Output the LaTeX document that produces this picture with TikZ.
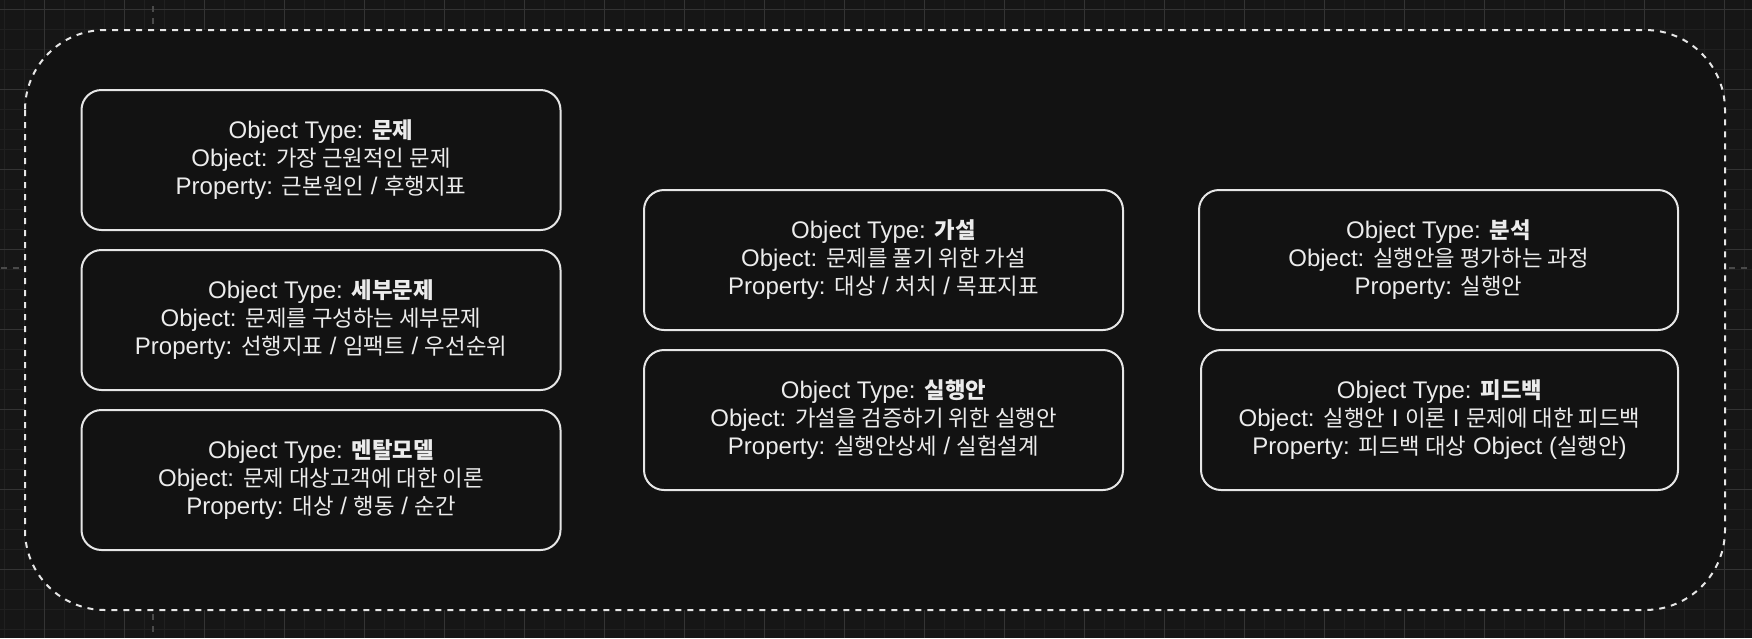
\documentclass[tikz,border=0pt]{standalone}
\usepackage{fontspec}
\setmainfont{Liberation Sans}
\newfontfamily\krfont[Scale=0.93]{Noto Sans CJK KR}
\newcommand\kor[1]{{\krfont #1}}
\definecolor{bgout}{HTML}{161616}
\definecolor{bgin}{HTML}{121212}
\definecolor{gridminor}{HTML}{202020}
\definecolor{gridmajor}{HTML}{343434}
\definecolor{tickgray}{HTML}{4A4A4A}
\definecolor{strokec}{HTML}{E6E6E6}
\definecolor{textc}{HTML}{ECECEC}
\tikzset{
  minorgrid/.style={gridminor, line width=1.2pt},
  majorgrid/.style={gridmajor, line width=1.2pt},
  guidetick/.style={tickgray, line width=2pt, dash pattern=on 6pt off 6pt},
  outerframe/.style={strokec, fill=bgin, line width=2pt, dash pattern=on 6pt off 6pt, rounded corners=80pt},
  objbox/.style={draw=strokec, fill=bgin, line width=2pt, rounded corners=20pt,
    minimum height=140pt, inner sep=0pt, align=center, text=textc,
    font=\fontsize{24}{28}\selectfont},
}
\begin{document}
\begin{tikzpicture}[x=1pt,y=-1pt]
\useasboundingbox (0,0) rectangle (1752,638);
\fill[bgout] (0,0) rectangle (1752,638);
% grid
\foreach \i in {0,...,87} \draw[minorgrid] ({4.8+20*\i},0) -- ({4.8+20*\i},638);
\foreach \j in {0,...,31} \draw[minorgrid] (0,{9.3+20*\j}) -- (1752,{9.3+20*\j});
\foreach \i in {0,...,21} \draw[majorgrid] ({44.8+80*\i},0) -- ({44.8+80*\i},638);
\foreach \j in {0,...,7} \draw[majorgrid] (0,{9.3+80*\j}) -- (1752,{9.3+80*\j});
% guide ticks
\draw[guidetick] (153,6) -- (153,26);
\draw[guidetick] (153,614) -- (153,634);
\draw[guidetick] (1,268) -- (21,268);
\draw[guidetick] (1729,268) -- (1752,268);
% outer frame
\draw[outerframe] (25,30) rectangle (1725,610);
% boxes
\node[objbox, minimum width=479pt] (b1) at (321,160)
  {Object Type: \textbf{\kor{문제}}\\Object: \kor{가장 근원적인 문제}\\Property: \kor{근본원인} / \kor{후행지표}};
\node[objbox, minimum width=479pt] (b2) at (321,320)
  {Object Type: \textbf{\kor{세부문제}}\\Object: \kor{문제를 구성하는 세부문제}\\Property: \kor{선행지표} / \kor{임팩트} / \kor{우선순위}};
\node[objbox, minimum width=479pt] (b3) at (321,480)
  {Object Type: \textbf{\kor{멘탈모델}}\\Object: \kor{문제 대상고객에 대한 이론}\\Property: \kor{대상} / \kor{행동} / \kor{순간}};
\node[objbox, minimum width=479pt] (b4) at (883.5,260)
  {Object Type: \textbf{\kor{가설}}\\Object: \kor{문제를 풀기 위한 가설}\\Property: \kor{대상} / \kor{처치} / \kor{목표지표}};
\node[objbox, minimum width=479pt] (b5) at (883.5,420)
  {Object Type: \textbf{\kor{실행안}}\\Object: \kor{가설을 검증하기 위한 실행안}\\Property: \kor{실행안상세} / \kor{실험설계}};
\node[objbox, minimum width=479pt] (b6) at (1438.5,260)
  {Object Type: \textbf{\kor{분석}}\\Object: \kor{실행안을 평가하는 과정}\\Property: \kor{실행안}};
\node[objbox, minimum width=477pt] (b7) at (1439.5,420)
  {Object Type: \textbf{\kor{피드백}}\\Object: \kor{실행안} I \kor{이론} I \kor{문제에 대한 피드백}\\Property: \kor{피드백 대상} Object (\kor{실행안})};
\end{tikzpicture}
\end{document}
